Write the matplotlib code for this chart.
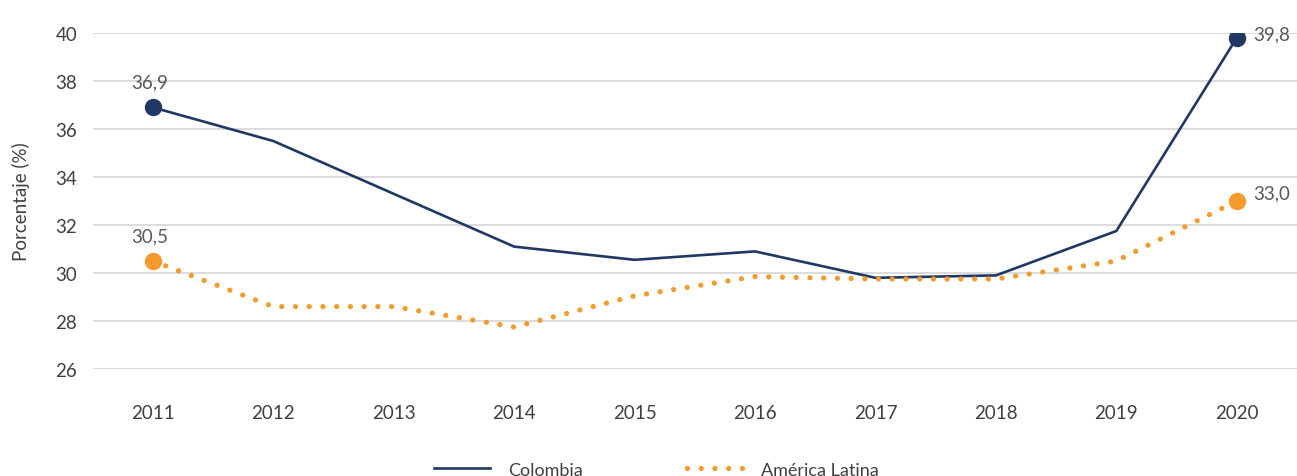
import matplotlib
matplotlib.use("Agg")
import matplotlib.pyplot as plt

years = ["2011", "2012", "2013", "2014", "2015", "2016", "2017", "2018", "2019", "2020"]
colombia = [36.9, 35.5, 33.3, 31.1, 30.55, 30.9, 29.8, 29.9, 31.75, 39.8]
america_latina = [30.5, 28.6, 28.6, 27.75, 29.05, 29.85, 29.75, 29.75, 30.5, 33.0]
colombia_labels = ["36,9", "39,8"]
al_labels = ["30,5", "33,0"]
yticks = [26, 28, 30, 32, 34, 36, 38, 40]

plt.rcParams['font.family'] = ['Lato', 'DejaVu Sans']

NAVY = "#1f3864"
ORANGE = "#f59b2d"
TXT = "#404040"
LBL = "#595959"
FS = 13.5

fig = plt.figure(figsize=(12.97, 4.77), dpi=100)
ax = fig.add_axes([0.0714, 0.2243, 0.9286, 0.7044])

x = list(range(len(years)))
ax.plot(x, colombia, color=NAVY, lw=1.9, solid_joinstyle='miter', label="Colombia", zorder=3)
ax.plot(x, america_latina, color=ORANGE, lw=3.8, linestyle=(0, (0.001, 2.6)),
        dash_capstyle='round', label="América Latina", zorder=3)

ends = [0, len(years) - 1]
ax.plot([x[i] for i in ends], [colombia[i] for i in ends], 'o', color=NAVY, ms=11.5, zorder=4)
ax.plot([x[i] for i in ends], [america_latina[i] for i in ends], 'o', color=ORANGE, ms=11.5, zorder=4)

ax.annotate(colombia_labels[0], (x[0], colombia[0]), xytext=(-2, 12), textcoords='offset points',
            ha='center', va='bottom', fontsize=FS, color=LBL)
ax.annotate(al_labels[0], (x[0], america_latina[0]), xytext=(-2, 12), textcoords='offset points',
            ha='center', va='bottom', fontsize=FS, color=LBL)
ax.annotate(colombia_labels[1], (x[-1], colombia[-1]), xytext=(12, 3), textcoords='offset points',
            ha='left', va='center', fontsize=FS, color=LBL)
ax.annotate(al_labels[1], (x[-1], america_latina[-1]), xytext=(12, 6), textcoords='offset points',
            ha='left', va='center', fontsize=FS, color=LBL)

ax.set_xlim(-0.5, len(years) - 0.5)
ax.set_ylim(26, 40)
ax.set_yticks(yticks)
ax.set_yticklabels([str(t) for t in yticks])
ax.set_xticks(x)
ax.set_xticklabels(years)
ax.tick_params(axis='both', length=0, labelsize=FS, labelcolor=TXT)
ax.tick_params(axis='y', pad=11)
ax.tick_params(axis='x', pad=25)
ax.grid(axis='y', color='#d9d9d9', lw=1.3, zorder=0)
ax.set_axisbelow(True)
for s in ax.spines.values():
    s.set_visible(False)

ax.set_ylabel("Porcentaje (%)", fontsize=FS, color=TXT)
ax.yaxis.set_label_coords(-0.052, 0.5)

leg = ax.legend(loc='center', bbox_to_anchor=(0.468, -0.3), ncol=2, frameon=False,
                fontsize=13, handlelength=3.1, handletextpad=1.0, columnspacing=5.8)
for t in leg.get_texts():
    t.set_color(TXT)

fig.savefig("out.png", dpi=100, facecolor='white')
